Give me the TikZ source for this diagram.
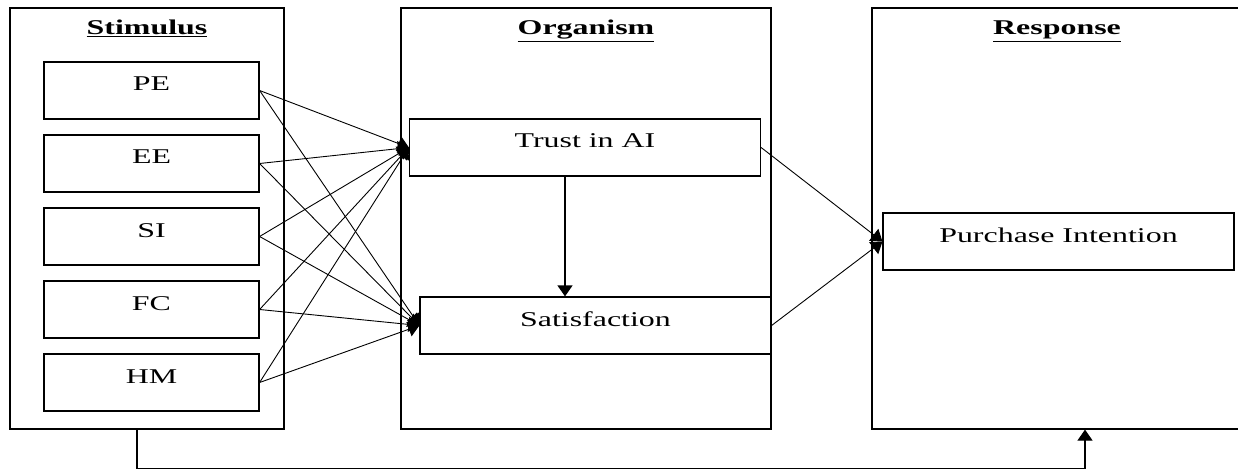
\documentclass[tikz,border=0pt]{standalone}
\usepackage{fontspec}
\setmainfont[FakeStretch=1.52]{Liberation Serif}
\usetikzlibrary{arrows.meta, positioning}
\newcommand{\sorfont}{\fontsize{21}{25}\selectfont}
\tikzstyle{panel} = [rectangle, draw=black, line width=1.2pt, minimum width=370pt, minimum height=421pt, inner sep=0pt]
\tikzstyle{paneltitle} = [anchor=base, inner sep=0pt, font=\sorfont\bfseries]
\tikzstyle{factor} = [rectangle, draw=black, line width=1.2pt, minimum width=215pt, text height=29pt, text depth=28pt, inner sep=0pt, font=\sorfont]
\tikzstyle{construct} = [factor, minimum width=351pt]
\tikzstyle{arrow} = [line width=0.9pt, -{Triangle[length=11pt,width=15pt]}]

\begin{document}
\begin{tikzpicture}[x=1pt, y=-1pt, node distance=73pt]
\useasboundingbox (0,0) rectangle (1238,470);

% Panels
\node (stimulus) [panel, minimum width=274pt] at (147,218.5) {};
\node (organism) [panel] at (586,218.5) {};
\node (response) [panel] at (1057,218.5) {};

\node (stimtitle) [paneltitle] at (147,35) {\underline{Stimulus}};
\node (orgtitle) [paneltitle] at (586,35) {\underline{Organism}};
\node (resptitle) [paneltitle] at (1057,35) {\underline{Response}};

% Stimulus factors
\node (pe) [factor] at (151.5,90.5) {PE};
\node (ee) [factor, below of=pe] {EE};
\node (si) [factor, below of=ee] {SI};
\node (fc) [factor, below of=si] {FC};
\node (hm) [factor, below of=fc] {HM};

% Organism
\node (trust) [construct] at (585,147.5) {Trust in AI};
\node (satisfaction) [construct] at (595.5,325.5) {Satisfaction};

% Response
\node (intention) [construct] at (1058.5,241.5) {Purchase Intention};

% Arrows
\foreach \f in {pe, ee, si, fc, hm} {
  \draw [arrow] (\f.east) -- (trust.west);
  \draw [arrow] (\f.east) -- (satisfaction.west);
}
\draw [arrow, line width=1.2pt] ([xshift=-20pt]trust.south) -- ([xshift=-20pt]trust.south |- satisfaction.north);
\draw [arrow] (trust.east) -- (intention.west);
\draw [arrow] (satisfaction.east) -- (intention.west);
\draw [arrow, line width=1.2pt] ([xshift=-10pt]stimulus.south) -- ++(0,39) -| ([xshift=28pt]response.south);

\end{tikzpicture}
\end{document}
